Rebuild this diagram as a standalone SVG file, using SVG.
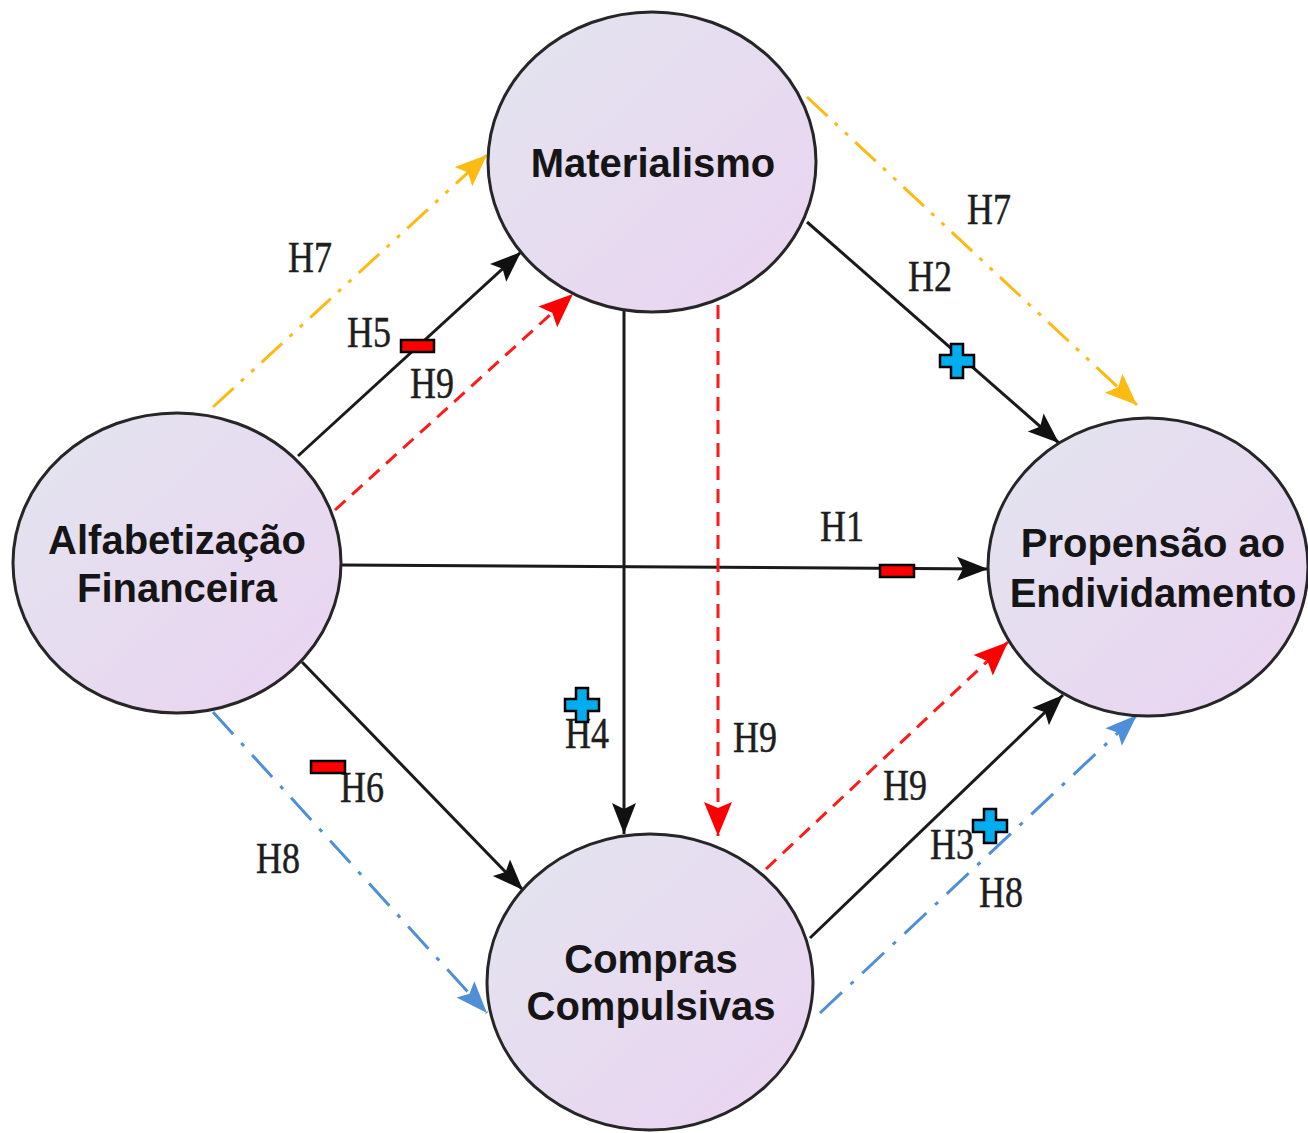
<svg xmlns="http://www.w3.org/2000/svg" xmlns:xlink="http://www.w3.org/1999/xlink" width="1308" height="1133" viewBox="0 0 1308 1133">
<style>
.node ellipse{fill:url(#nodeFill);stroke:#262626;stroke-width:3}
.node text{font-family:"Liberation Sans",Arial,sans-serif;font-weight:bold;font-size:40px;fill:#151515;text-anchor:middle}
.lbl{font-family:"Liberation Serif","Times New Roman",serif;font-size:36px;fill:#1e1e1e;stroke:#1e1e1e;stroke-width:0.4}
.blk{stroke:#1a1a1a;stroke-width:3;fill:none}
.red{stroke:#ff1a1a;stroke-width:3;fill:none;stroke-dasharray:14 9}
.org{stroke:#fbbb12;stroke-width:3;fill:none;stroke-dasharray:28 10 4 10 4 10}
.blu{stroke:#4f8fd8;stroke-width:3;fill:none;stroke-dasharray:30 12 4 12}
.minus{fill:#f00;stroke:#000;stroke-width:2.5}
.plus{fill:#00aeef;stroke:#000;stroke-width:2.5}
</style>
<defs>
<linearGradient id="nodeFill" x1="0" y1="0" x2="1" y2="1">
<stop offset="0" stop-color="#e3e5ef"/>
<stop offset="1" stop-color="#ead3f1"/>
</linearGradient>
<marker id="aBlk" markerUnits="userSpaceOnUse" markerWidth="32" markerHeight="24" refX="31" refY="12" orient="auto" overflow="visible">
<path d="M0,0 L31,12 L0,24 L6,12 z" fill="#111"/>
</marker>
<marker id="aRed" markerUnits="userSpaceOnUse" markerWidth="34" markerHeight="28" refX="34" refY="14" orient="auto" overflow="visible">
<path d="M0,0 L34,14 L0,28 L6,14 z" fill="#ff0000"/>
</marker>
<marker id="aOrg" markerUnits="userSpaceOnUse" markerWidth="32" markerHeight="26" refX="32" refY="13" orient="auto" overflow="visible">
<path d="M0,0 L32,13 L0,26 L6,13 z" fill="#fbbb12"/>
</marker>
<marker id="aBlu" markerUnits="userSpaceOnUse" markerWidth="32" markerHeight="24" refX="32" refY="12" orient="auto" overflow="visible">
<path d="M0,0 L32,12 L0,24 L6,12 z" fill="#4f8fd8"/>
</marker>
<path id="plusShape" class="plus" d="M-6,-17 h12 v11 h11 v12 h-11 v11 h-12 v-11 h-11 v-12 h11 z"/>
</defs>
<rect width="1308" height="1133" fill="#fff"/>
<g id="connectors">
<line class="org" x1="213" y1="407" x2="487" y2="155" marker-end="url(#aOrg)"/>
<line class="blk" x1="298" y1="456" x2="521" y2="252" marker-end="url(#aBlk)"/>
<line class="red" x1="335" y1="510" x2="573" y2="294" marker-end="url(#aRed)"/>
<line class="blk" x1="342" y1="565" x2="988" y2="569" marker-end="url(#aBlk)"/>
<line class="blk" x1="624" y1="311" x2="624" y2="834" marker-end="url(#aBlk)"/>
<line class="red" x1="718" y1="305" x2="718" y2="836" marker-end="url(#aRed)"/>
<line class="org" x1="807" y1="97" x2="1137" y2="405" marker-end="url(#aOrg)"/>
<line class="blk" x1="807" y1="222" x2="1059" y2="443" marker-end="url(#aBlk)"/>
<line class="blk" x1="302" y1="662" x2="523" y2="890" marker-end="url(#aBlk)"/>
<line class="blu" x1="213" y1="712" x2="487" y2="1013" marker-end="url(#aBlu)"/>
<line class="red" x1="766" y1="869" x2="1008" y2="642" marker-end="url(#aRed)"/>
<line class="blk" x1="810" y1="938" x2="1063" y2="695" marker-end="url(#aBlk)"/>
<line class="blu" x1="820" y1="1013" x2="1137" y2="715" marker-end="url(#aBlu)"/>
</g>
<g id="node-materialismo" class="node">
<ellipse cx="652" cy="162" rx="164" ry="150"/>
<text x="653" y="177">Materialismo</text>
</g>
<g id="node-alfabetizacao" class="node">
<ellipse cx="177" cy="563" rx="164" ry="150"/>
<text x="177" y="554">Alfabetização</text>
<text x="177" y="602">Financeira</text>
</g>
<g id="node-propensao" class="node">
<ellipse cx="1148" cy="567" rx="160" ry="149"/>
<text x="1153" y="557">Propensão ao</text>
<text x="1153" y="607">Endividamento</text>
</g>
<g id="node-compras" class="node">
<ellipse cx="650" cy="982" rx="163" ry="148"/>
<text x="651" y="973">Compras</text>
<text x="651" y="1020">Compulsivas</text>
</g>
<g id="labels" class="lbl">
<text transform="translate(288,272) scale(1,1.22)">H7</text>
<text transform="translate(347,347) scale(1,1.22)">H5</text>
<text transform="translate(410,398) scale(1,1.22)">H9</text>
<text transform="translate(967,224) scale(1,1.22)">H7</text>
<text transform="translate(908,291) scale(1,1.22)">H2</text>
<text transform="translate(820,541) scale(1,1.22)">H1</text>
<text transform="translate(565,748) scale(1,1.22)">H4</text>
<text transform="translate(733,752) scale(1,1.22)">H9</text>
<text transform="translate(340,802) scale(1,1.22)">H6</text>
<text transform="translate(256,873) scale(1,1.22)">H8</text>
<text transform="translate(883,800) scale(1,1.22)">H9</text>
<text transform="translate(930,859) scale(1,1.22)">H3</text>
<text transform="translate(979,907) scale(1,1.22)">H8</text>
</g>
<g id="signs">
<rect class="minus" x="401" y="340" width="33" height="12"/>
<rect class="minus" x="880" y="565" width="34" height="12"/>
<rect class="minus" x="311" y="761" width="34" height="12"/>
<use xlink:href="#plusShape" x="957" y="361"/>
<use xlink:href="#plusShape" x="582" y="705"/>
<use xlink:href="#plusShape" x="990" y="826"/>
</g>
</svg>
